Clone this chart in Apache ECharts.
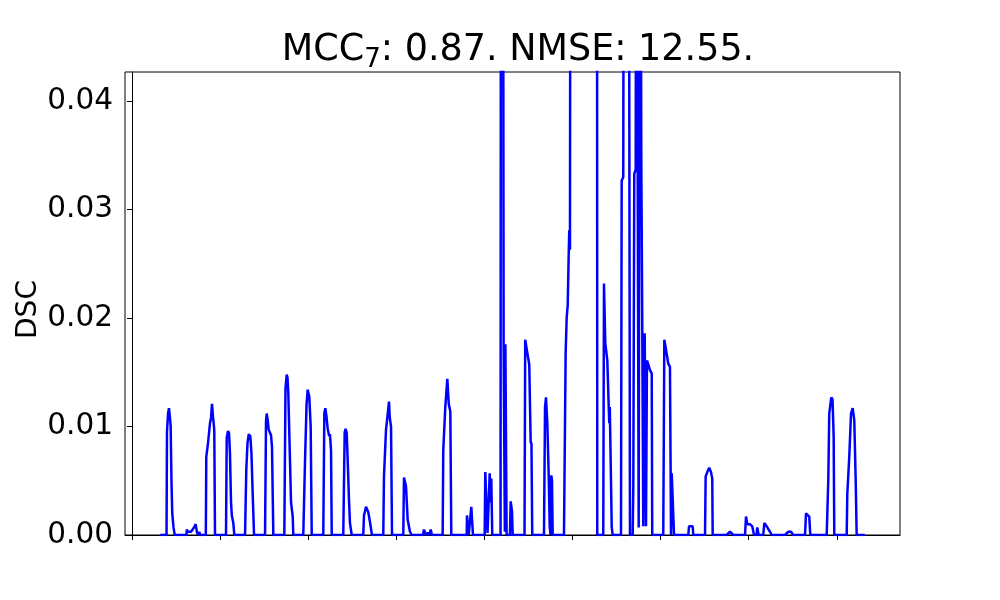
<!DOCTYPE html>
<html>
<head>
<meta charset="utf-8">
<script src="https://cdn.jsdelivr.net/npm/echarts@6/dist/echarts.min.js"></script>
<style>html,body{margin:0;padding:0;background:#fff;}#c{width:1000px;height:600px;}</style>
</head>
<body>
<div id="c"></div>
<script>
// Sample positions (x) and DSC values (y)
const xs = [
  320, 392, 397, 409, 420, 431, 439, 448, 457, 471, 485,
  619, 621, 636, 670, 704, 723, 738, 755, 764, 772,
  838, 843, 863, 885, 897, 908, 919, 931, 934, 942,
  1067, 1075, 1090, 1101, 1112, 1124, 1133, 1150, 1161,
  1283, 1297, 1311, 1325, 1343, 1356, 1373, 1385,
  1510, 1521, 1529, 1540, 1552, 1566, 1578, 1589, 1604,
  1729, 1742, 1756, 1765, 1774, 1793, 1805, 1824, 1831,
  1944, 1964, 1981, 1994, 2012, 2028, 2040,
  2171, 2183, 2194, 2208, 2221, 2233, 2239, 2247, 2259, 2267,
  2398, 2414, 2425, 2437, 2448, 2463, 2474, 2494,
  2625, 2633, 2656, 2682, 2701, 2716, 2724,
  2852, 2860, 2883, 2898, 2917, 2925, 2940, 2951,
  3079, 3087, 3110, 3129, 3155, 3175,
  3303, 3314, 3337, 3360, 3377, 3390, 3405,
  3526, 3533, 3556, 3579, 3595, 3613, 3624,
  3799, 3802, 3817, 3822,
  3836, 3851, 3862, 3870,
  4003, 4010, 4024, 4035, 4060, 4069, 4078, 4089,
  4183, 4188, 4200, 4211, 4218, 4227, 4232, 4238, 4245, 4252,
  4290, 4298, 4313, 4321,
  4455, 4463, 4487, 4509, 4525, 4534, 4543,
  4676, 4688, 4699, 4714, 4730, 4741, 4750, 4759, 4767, 4775,
  4903, 4922, 4934, 4945, 4957, 4963, 4971, 4979, 5085, 5198, 5278, 5281,
  5349, 5357, 5372, 5395, 5411, 5417, 5423, 5433, 5445, 5456,
  5550, 5558, 5576, 5584, 5637, 5652,
  5683, 5690, 5701, 5717, 5724, 5743, 5751, 5766, 5781, 5792, 5803, 5819, 5834, 5845, 5857, 5879, 5899, 5905,
  6030, 6042, 6061, 6087, 6106, 6118, 6126, 6144, 6152,
  6314, 6322, 6364, 6371,
  6504, 6511, 6530, 6552, 6572, 6586, 6591,
  6750, 6787, 6825,
  6958, 6969, 6984, 7014, 7040, 7060, 7088, 7097, 7113, 7165, 7177, 7204, 7241, 7261,
  7412, 7449, 7480, 7506,
  7639, 7650, 7669, 7687, 7699,
  7885, 7903, 7914, 7937, 7951, 7964, 7971,
  8112, 8119, 8141, 8161, 8180, 8198, 8214, 8225,
  8317
];
const ys = [
  0, 0, 0.0095, 0.0112, 0.0117, 0.0108, 0.0100, 0.0050, 0.0020, 0.0007, 0,
  0, 0.0005, 0.0003, 0.0003, 0.0007, 0.0010, 0.0002, 0, 0.0003, 0,
  0, 0.0072, 0.0085, 0.0103, 0.0108, 0.0121, 0.0109, 0.0100, 0.0095, 0,
  0, 0.0090, 0.0096, 0.0094, 0.0075, 0.0030, 0.0018, 0.0011, 0,
  0, 0.0060, 0.0085, 0.0093, 0.0091, 0.0075, 0.0030, 0,
  0, 0.0105, 0.0112, 0.0106, 0.0097, 0.0096, 0.0092, 0.0081, 0,
  0, 0.0135, 0.0148, 0.0145, 0.0131, 0.0069, 0.0030, 0.0017, 0,
  0, 0.0069, 0.0120, 0.0134, 0.0128, 0.0100, 0,
  0, 0.0112, 0.0117, 0.0109, 0.0098, 0.0098, 0.0091, 0.0093, 0.0078, 0,
  0, 0.0095, 0.0098, 0.0094, 0.0069, 0.0032, 0.0011, 0,
  0, 0.0018, 0.0026, 0.0021, 0.0012, 0.0012, 0,
  0, 0.0054, 0.0097, 0.0108, 0.0123, 0.0109, 0.0100, 0,
  0, 0.0053, 0.0045, 0.0014, 0.0003, 0,
  0, 0.0005, 0, 0.0002, 0, 0.0005, 0,
  0, 0.0078, 0.0118, 0.0144, 0.0121, 0.0114, 0,
  0, 0.0018, 0.0018, 0,
  0, 0.0026, 0.0025, 0,
  0, 0.0058, 0.0026, 0.0002, 0.0057, 0.0030, 0.0052, 0,
  0, 0.075, 0.050, 0.070, 0.0177, 0.0176, 0.0003, 0.0176, 0.0176, 0,
  0, 0.0031, 0.0022, 0,
  0, 0.0180, 0.0168, 0.0157, 0.0086, 0.0084, 0,
  0, 0.0118, 0.0127, 0.0103, 0.0054, 0.0008, 0, 0.0055, 0.0050, 0,
  0, 0.0168, 0.0201, 0.0211, 0.0260, 0.0281, 0.0263, 0.090, 0.120, 0.100, 0.070, 0,
  0, 0.0232, 0.0177, 0.0161, 0.0118, 0.0103, 0.0118, 0.0069, 0.0007, 0,
  0, 0.0327, 0.0330, 0.080, 0.080, 0,
  0, 0.0045, 0.0333, 0.0337, 0.080, 0.080, 0.0007, 0.080, 0.0340, 0.0186, 0.0008, 0.0186, 0.0008, 0.0161, 0.0158, 0.0152, 0.0149, 0,
  0, 0.0180, 0.0171, 0.0158, 0.0155, 0, 0.0057, 0.0057, 0,
  0, 0.0008, 0.0008, 0,
  0, 0.0054, 0.0058, 0.0062, 0.0058, 0.0052, 0,
  0, 0.0003, 0,
  0, 0.0017, 0.0010, 0.0010, 0.0008, 0, 0, 0.0007, 0, 0, 0.0011, 0.0008, 0.0003, 0,
  0, 0.0003, 0.0003, 0,
  0, 0.0020, 0.0021, 0.0017, 0,
  0, 0.0051, 0.0112, 0.0127, 0.0125, 0.0091, 0,
  0, 0.0038, 0.0072, 0.0112, 0.0117, 0.0106, 0.0051, 0,
  0
];
const xTicks = [0, 1000, 2000, 3000, 4000, 5000, 6000, 7000, 8000];
const yTicks = [0, 0.01, 0.02, 0.03, 0.04];
const titleMain = 'MCC';
const titleSub = '7';
const titleRest = ': 0.87. NMSE: 12.55.';
const yName = 'DSC';

const points = xs.map((x, i) => [x, ys[i]]);
const FONT = 'DejaVu Sans';
const chart = echarts.init(document.getElementById('c'), null, {renderer: 'canvas'});
chart.setOption({
  animation: false,
  backgroundColor: '#ffffff',
  title: {
    text: titleMain + '{sub|' + titleSub + '}' + titleRest,
    left: 513, top: 24, textAlign: 'center',
    textStyle: {
      fontFamily: FONT, fontSize: 36.5, fontWeight: 'normal', color: '#000',
      lineHeight: 44,
      rich: { sub: { fontFamily: FONT, fontSize: 26, color: '#000', verticalAlign: 'bottom', lineHeight: 26 } }
    }
  },
  grid: {
    left: 125, right: 100, top: 72, bottom: 65,
    show: true, borderColor: '#000', borderWidth: 1, backgroundColor: 'transparent'
  },
  xAxis: {
    type: 'value', min: -79.5, max: 8717,
    axisLine: {show: true, onZero: false, lineStyle: {color: '#000', width: 1}},
    axisTick: {show: true, inside: false, length: 5, customValues: xTicks, lineStyle: {color: '#000', width: 1}},
    axisLabel: {show: false, customValues: xTicks},
    splitLine: {show: false}
  },
  yAxis: {
    type: 'value', min: 0, max: 0.0427,
    name: yName, nameLocation: 'middle', nameGap: 82, nameMoveOverlap: false,
    nameTextStyle: {fontFamily: FONT, fontSize: 28, color: '#000', padding: [0, 12, 0, 0]},
    axisLine: {show: true, lineStyle: {color: '#000', width: 1}},
    axisTick: {show: true, inside: false, length: 5, customValues: yTicks, lineStyle: {color: '#000', width: 1}},
    axisLabel: {
      show: true, customValues: yTicks, margin: 12,
      fontFamily: FONT, fontSize: 29.5, color: '#000',
      formatter: v => Number(v).toFixed(2)
    },
    splitLine: {show: false}
  },
  series: [{
    type: 'line', data: points, showSymbol: false, symbol: 'none',
    clip: true,
    lineStyle: {color: '#0000ff', width: 2.5},
    itemStyle: {color: '#0000ff'}
  }]
});
</script>
</body>
</html>
